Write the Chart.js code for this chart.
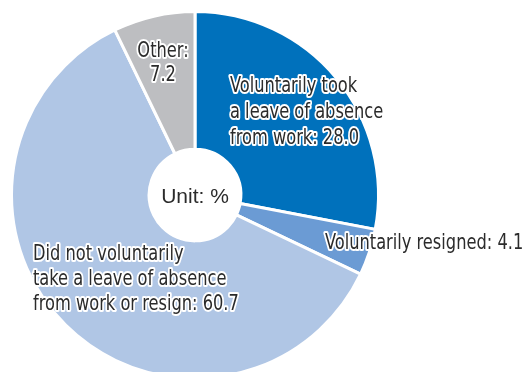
<!DOCTYPE html>
<html lang="en">
<head>
<meta charset="UTF-8">
<title>Leave of absence / resignation</title>
<style>
  html, body {
    margin: 0;
    padding: 0;
    background: #fff;
    overflow: hidden;
  }
  #wrap {
    width: 526px;
    height: 372px;
    overflow: hidden;
  }
</style>
</head>
<body>
<div id="wrap">
  <canvas id="pie" width="526" height="380"></canvas>
</div>

<script src="https://cdn.jsdelivr.net/npm/chart.js"></script>
<script>
  // slices, clockwise from 12 o'clock
  const categories = [
    'Voluntarily took a leave of absence from work',
    'Voluntarily resigned',
    'Did not voluntarily take a leave of absence from work or resign',
    'Other'
  ];
  const shares = [28.0, 4.1, 60.7, 7.2];
  const sliceColors = ['#0071bc', '#6b9bd4', '#b0c6e5', '#bdbec1'];

  // label text per slice (last line gets the value appended)
  const labelLines = [
    ['Voluntarily took', 'a leave of absence', 'from work: '],
    ['Voluntarily resigned: '],
    ['Did not voluntarily', 'take a leave of absence', 'from work or resign: '],
    ['Other:', '']
  ];

  // label anchors as pixel offsets from the pie centre
  const labelPlacement = [
    { dx: 35, dy: -108, align: 'left', lh: 26 },
    { dx: 130, dy: 49, align: 'left', lh: 26 },
    { dx: -162, dy: 60, align: 'left', lh: 25 },
    { dx: -32, dy: -143, align: 'center', lh: 24 }
  ];

  const LABEL_FONT = '21px "DejaVu Sans Condensed", "DejaVu Sans", sans-serif';
  const NARROW = 0.86; // horizontal squeeze for a condensed look

  const sliceLabels = {
    id: 'sliceLabels',
    afterDatasetsDraw(chart) {
      const ctx = chart.ctx;
      const arcs = chart.getDatasetMeta(0).data;
      const cx = arcs[0].x, cy = arcs[0].y;
      ctx.save();
      ctx.font = LABEL_FONT;
      ctx.textBaseline = 'middle';
      ctx.lineJoin = 'round';
      labelLines.forEach((lines, i) => {
        const p = labelPlacement[i];
        ctx.textAlign = p.align;
        lines.forEach((txt, j) => {
          const s = j === lines.length - 1 ? txt + shares[i].toFixed(1) : txt;
          const x = cx + p.dx, y = cy + p.dy + j * p.lh;
          ctx.save();
          ctx.translate(x, y);
          ctx.scale(NARROW, 1);
          ctx.strokeStyle = '#fff';
          ctx.lineWidth = 4;
          ctx.strokeText(s, 0, 0);
          ctx.fillStyle = '#2b2b2b';
          ctx.fillText(s, 0, 0);
          ctx.restore();
        });
      });
      // centre caption
      ctx.font = '21px "Liberation Sans", Arial, sans-serif';
      ctx.textAlign = 'center';
      ctx.fillStyle = '#2b2b2b';
      ctx.fillText('Unit: %', cx, cy + 2);
      ctx.restore();
    }
  };

  new Chart(document.getElementById('pie'), {
    type: 'doughnut',
    data: {
      labels: categories,
      datasets: [{
        data: shares,
        backgroundColor: sliceColors,
        borderColor: '#fff',
        borderWidth: 3,
        hoverOffset: 0
      }]
    },
    options: {
      responsive: false,
      animation: false,
      cutout: '25%',
      layout: {
        padding: { top: 10, bottom: 0, left: 9, right: 145 }
      },
      plugins: {
        legend: { display: false },
        tooltip: { enabled: false }
      }
    },
    plugins: [sliceLabels]
  });
</script>
</body>
</html>
